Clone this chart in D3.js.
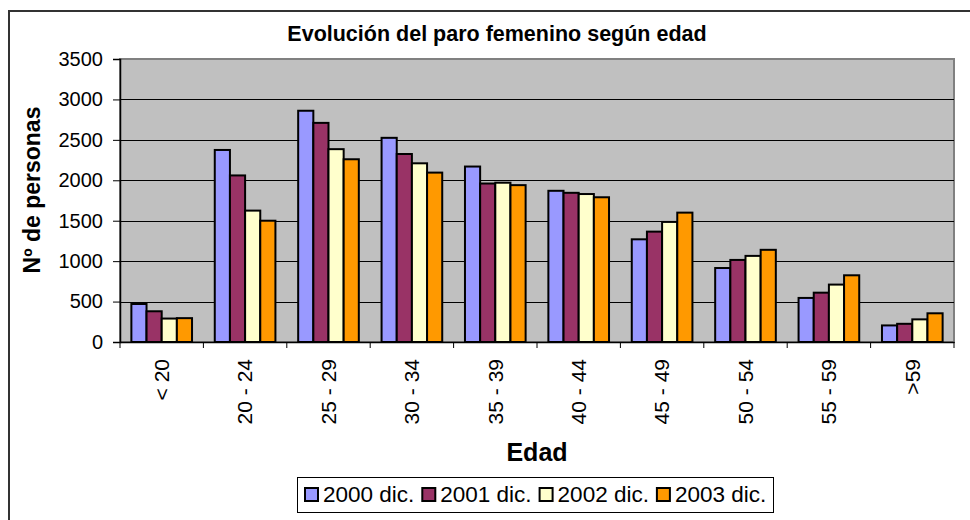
<!DOCTYPE html>
<html lang="es">
<head>
  <meta charset="UTF-8">
  <title>Evolución del paro femenino según edad</title>
  <script src="https://d3js.org/d3.v7.min.js"></script>
  <style>
    body { margin: 0; padding: 0; background: #fff; }
    svg text { font-family: Arial, "Liberation Sans", sans-serif; fill: #000; }
    .grid line { stroke: #000; stroke-width: 1px; }
  </style>
</head>
<body>
  <div id="chart"></div>

  <script>
    // Data
    const categories = ['< 20', '20 - 24', '25 - 29', '30 - 34', '35 - 39', '40 - 44', '45 - 49', '50 - 54', '55 - 59', '>59'];
    const seriesNames = ['2000 dic.', '2001 dic.', '2002 dic.', '2003 dic.'];
    const s2000 = [470, 2375, 2860, 2525, 2170, 1870, 1270, 915, 545, 205];
    const s2001 = [380, 2060, 2710, 2325, 1960, 1845, 1365, 1015, 610, 225];
    const s2002 = [290, 1625, 2385, 2210, 1970, 1830, 1485, 1065, 710, 280];
    const s2003 = [295, 1500, 2260, 2095, 1940, 1790, 1600, 1140, 825, 355];
    const colors = ['#9999ff', '#993366', '#ffffcc', '#ff9900'];
    const yTicks = [0, 500, 1000, 1500, 2000, 2500, 3000, 3500];

    const allSeries = [s2000, s2001, s2002, s2003];

    const width = 970;
    const height = 520;
    const plot = { left: 120, right: 954, top: 59, bottom: 342 };

    const svg = d3.select('#chart')
      .append('svg')
      .attr('width', width)
      .attr('height', height);

    // outer frame (only left and top visible)
    svg.append('path')
      .attr('d', `M9,${height} V11 H${width}`)
      .attr('fill', 'none')
      .attr('stroke', '#333')
      .attr('stroke-width', 2);

    // scales
    const x = d3.scaleBand()
      .domain(categories)
      .range([plot.left, plot.right]);

    // gap width 150% of a bar, split on both sides
    const x1 = d3.scaleBand()
      .domain(d3.range(seriesNames.length))
      .range([0, x.bandwidth()])
      .paddingOuter(0.75)
      .paddingInner(0);

    const y = d3.scaleLinear()
      .domain([0, 3500])
      .range([plot.bottom, plot.top]);

    // plot background
    svg.append('rect')
      .attr('x', plot.left)
      .attr('y', plot.top)
      .attr('width', plot.right - plot.left)
      .attr('height', plot.bottom - plot.top)
      .attr('fill', '#c0c0c0')
      .attr('stroke', '#808080')
      .attr('stroke-width', 2);

    // gridlines
    svg.append('g')
      .attr('class', 'grid')
      .selectAll('line')
      .data(yTicks.filter(d => d > 0 && d < 3500))
      .enter()
      .append('line')
      .attr('x1', plot.left)
      .attr('x2', plot.right)
      .attr('y1', d => Math.round(y(d)) + 0.5)
      .attr('y2', d => Math.round(y(d)) + 0.5);

    // bars
    const groups = svg.append('g')
      .selectAll('g')
      .data(categories)
      .enter()
      .append('g')
      .attr('transform', d => `translate(${x(d)},0)`);

    groups.selectAll('rect')
      .data((d, i) => allSeries.map((s, k) => ({ k: k, v: s[i] })))
      .enter()
      .append('rect')
      .attr('x', d => x1(d.k))
      .attr('width', x1.bandwidth())
      .attr('y', d => y(d.v))
      .attr('height', d => plot.bottom - y(d.v))
      .attr('fill', d => colors[d.k])
      .attr('stroke', '#000')
      .attr('stroke-width', 2);

    // y axis
    const yAxis = svg.append('g')
      .attr('transform', `translate(${plot.left},0)`)
      .call(d3.axisLeft(y).tickValues(yTicks).tickFormat(d3.format('d')).tickSize(7).tickPadding(10));
    yAxis.select('.domain').attr('stroke', '#000').attr('stroke-width', 1.5);
    yAxis.selectAll('.tick line').attr('stroke', '#000');
    yAxis.selectAll('.tick text')
      .style('font-size', '20px')
      .style('font-family', 'Arial, "Liberation Sans", sans-serif');

    // x axis
    const xAxis = svg.append('g')
      .attr('transform', `translate(0,${plot.bottom})`)
      .call(d3.axisBottom(x).tickSize(0).tickFormat(''));
    xAxis.select('.domain').attr('stroke', '#000').attr('stroke-width', 1.5);

    // ticks at category boundaries
    svg.append('g')
      .selectAll('line')
      .data(categories.concat(['end']))
      .enter()
      .append('line')
      .attr('x1', (d, i) => plot.left + i * x.bandwidth())
      .attr('x2', (d, i) => plot.left + i * x.bandwidth())
      .attr('y1', plot.bottom)
      .attr('y2', plot.bottom + 6)
      .attr('stroke', '#000');

    // x labels (rotated)
    svg.append('g')
      .selectAll('text')
      .data(categories)
      .enter()
      .append('text')
      .attr('transform', d => `translate(${x(d) + x.bandwidth() / 2},359) rotate(-90)`)
      .attr('text-anchor', 'end')
      .attr('dy', '0.35em')
      .style('font-size', '21px')
      .text(d => d);

    // title
    svg.append('text')
      .attr('x', 497)
      .attr('y', 41)
      .attr('text-anchor', 'middle')
      .style('font-size', '21.5px')
      .style('font-weight', 'bold')
      .text('Evolución del paro femenino según edad');

    // axis titles
    svg.append('text')
      .attr('transform', 'translate(40,190) rotate(-90)')
      .attr('text-anchor', 'middle')
      .style('font-size', '23px')
      .style('font-weight', 'bold')
      .text('Nº de personas');

    svg.append('text')
      .attr('x', 537)
      .attr('y', 461)
      .attr('text-anchor', 'middle')
      .style('font-size', '25px')
      .style('font-weight', 'bold')
      .text('Edad');

    // legend
    const legend = svg.append('g');
    legend.append('rect')
      .attr('x', 297.5)
      .attr('y', 477.5)
      .attr('width', 476)
      .attr('height', 35)
      .attr('fill', '#fff')
      .attr('stroke', '#000')
      .attr('stroke-width', 1);

    const item = legend.selectAll('g')
      .data(seriesNames)
      .enter()
      .append('g')
      .attr('transform', (d, i) => `translate(${305 + i * 117.3},0)`);

    item.append('rect')
      .attr('x', 0)
      .attr('y', 488)
      .attr('width', 13)
      .attr('height', 13)
      .attr('fill', (d, i) => colors[i])
      .attr('stroke', '#000')
      .attr('stroke-width', 2);

    item.append('text')
      .attr('x', 18)
      .attr('y', 502)
      .style('font-size', '22.5px')
      .text(d => d);
  </script>
</body>
</html>
